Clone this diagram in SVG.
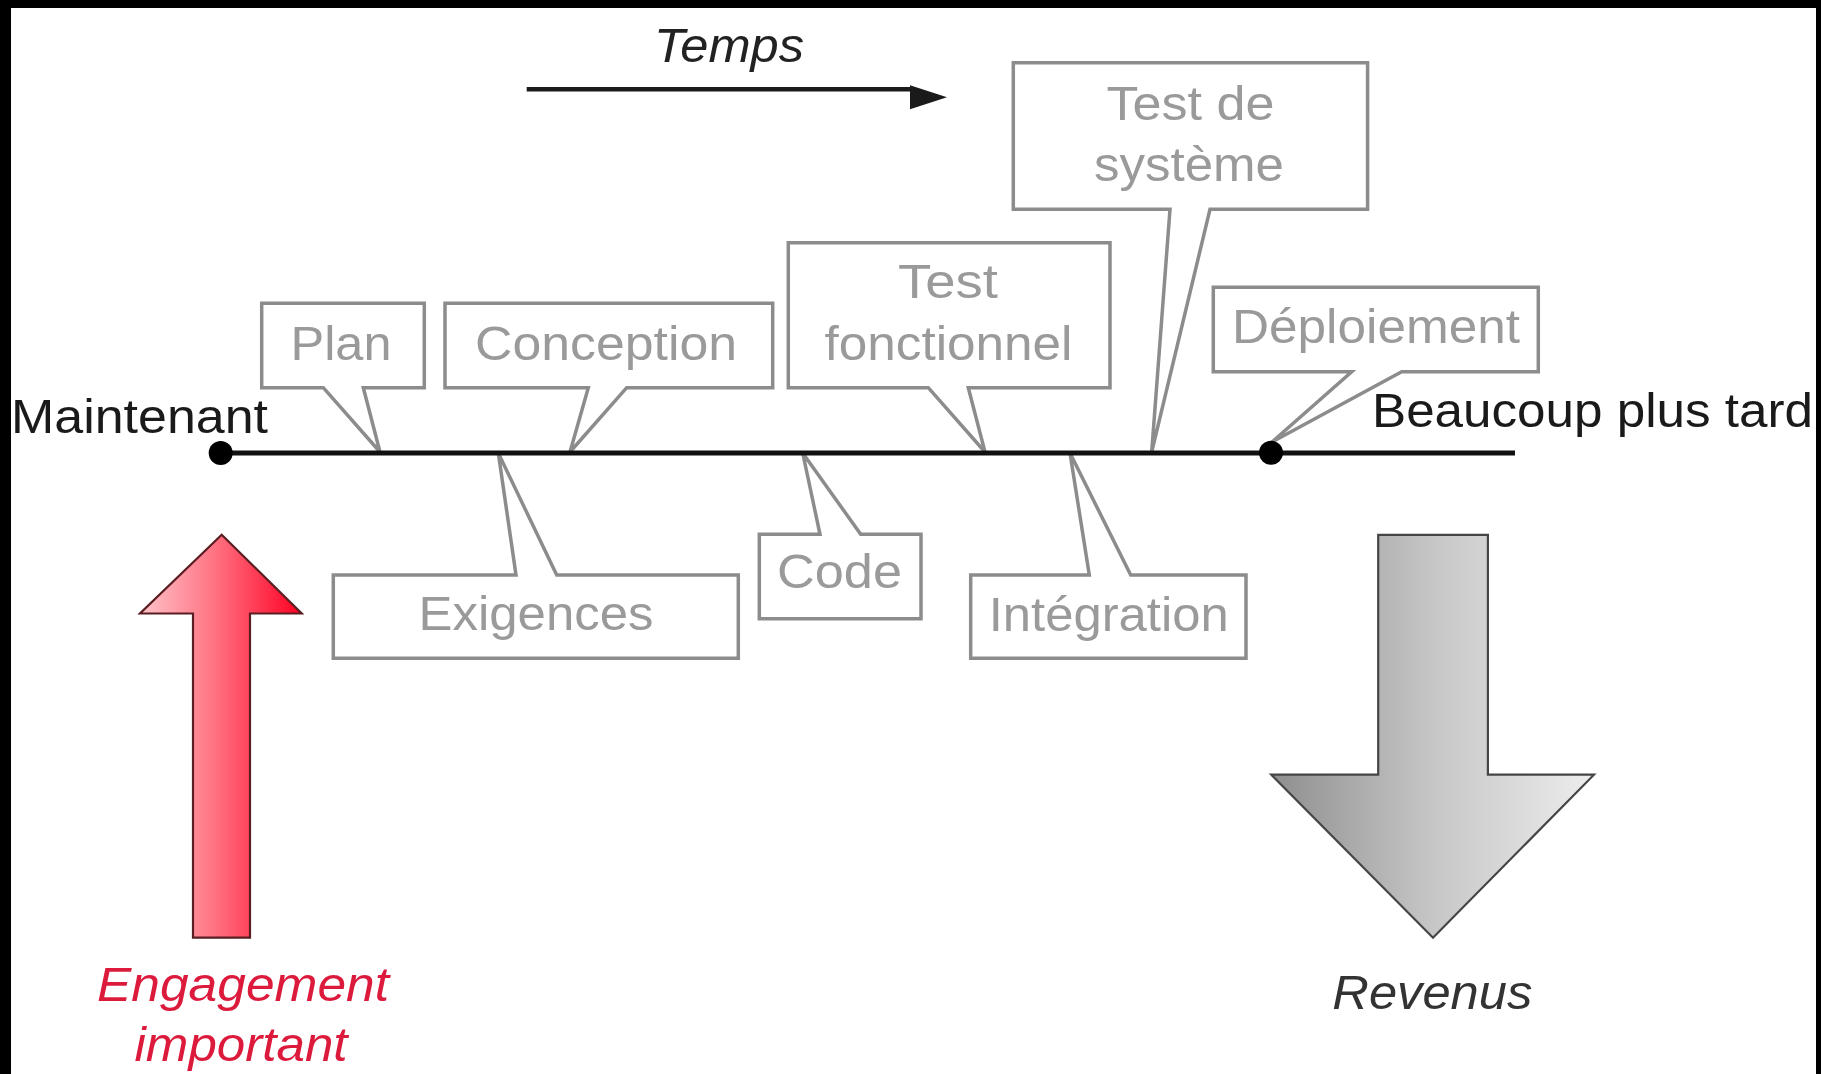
<svg xmlns="http://www.w3.org/2000/svg" width="1821" height="1074" viewBox="0 0 1821 1074">
  <defs>
    <linearGradient id="redGrad" gradientUnits="userSpaceOnUse" x1="140" y1="0" x2="302" y2="0">
      <stop offset="0" stop-color="#ffc4ca"/>
      <stop offset="0.45" stop-color="#ff7484"/>
      <stop offset="1" stop-color="#ff0022"/>
    </linearGradient>
    <linearGradient id="grayGrad" gradientUnits="userSpaceOnUse" x1="1271" y1="0" x2="1594" y2="0">
      <stop offset="0" stop-color="#8e8e8e"/>
      <stop offset="0.5" stop-color="#c6c6c6"/>
      <stop offset="1" stop-color="#ededed"/>
    </linearGradient>
    <marker id="arrowHead" markerWidth="10" markerHeight="8" refX="0" refY="4" orient="auto" markerUnits="userSpaceOnUse" viewBox="0 0 10 8" overflow="visible">
      <path d="M0,0 L10,4 L0,8 Z" fill="#1a1a1a" transform="scale(3.7,3)"/>
    </marker>
    <style>
      .callout { fill: #ffffff; stroke: #8c8c8c; stroke-width: 3.5; stroke-linejoin: miter; }
      .lbl { font-family: "Liberation Sans", Arial, sans-serif; font-size: 48px; fill: #9a9a9a; text-anchor: middle; }
      .dark { font-family: "Liberation Sans", Arial, sans-serif; font-size: 48px; fill: #1a1a1a; }
      .ital { font-family: "Liberation Sans", Arial, sans-serif; font-size: 48px; font-style: italic; text-anchor: middle; }
      .dot { fill: #000000; }
    </style>
  </defs>

  <rect x="0" y="0" width="1821" height="1074" fill="#ffffff"/>
  <!-- black frame -->
  <rect x="0" y="0" width="1821" height="8" fill="#000000"/>
  <rect x="0" y="0" width="11" height="1074" fill="#000000"/>
  <rect x="1816" y="0" width="5" height="1074" fill="#000000"/>

  <!-- Temps -->
  <g id="temps">
    <text class="ital" x="729" y="62" fill="#222222" textLength="150" lengthAdjust="spacingAndGlyphs">Temps</text>
  </g>

  <!-- callout nodes -->
  <g id="plan">
    <path class="callout" d="M261.7,303.3 H424.3 V387.7 H363.3 L380,452 L323.3,387.7 H261.7 Z"/>
    <text class="lbl" x="341" y="360" textLength="101" lengthAdjust="spacingAndGlyphs">Plan</text>
  </g>
  <g id="conception">
    <path class="callout" d="M445,303.3 H772.7 V387.7 H626.7 L570,452 L588.3,387.7 H445 Z"/>
    <text class="lbl" x="606" y="360" textLength="262" lengthAdjust="spacingAndGlyphs">Conception</text>
  </g>
  <g id="test-fonctionnel">
    <path class="callout" d="M788.3,242.7 H1110 V387.7 H968.3 L985,452 L928.3,387.7 H788.3 Z"/>
    <text class="lbl" x="948" y="298" textLength="100" lengthAdjust="spacingAndGlyphs">Test</text>
    <text class="lbl" x="948.5" y="360" textLength="248" lengthAdjust="spacingAndGlyphs">fonctionnel</text>
  </g>
  <g id="test-systeme">
    <path class="callout" d="M1013.3,62.7 H1367.6 V209.3 H1210 L1151.7,452 L1170,209.3 H1013.3 Z"/>
    <text class="lbl" x="1190.5" y="120" textLength="168" lengthAdjust="spacingAndGlyphs">Test de</text>
    <text class="lbl" x="1189" y="181" textLength="190" lengthAdjust="spacingAndGlyphs">système</text>
  </g>
  <g id="deploiement">
    <path class="callout" d="M1213.3,287.3 H1538.3 V371.7 H1401.7 L1272,442 L1351.7,371.7 H1213.3 Z"/>
    <text class="lbl" x="1376" y="343" textLength="288" lengthAdjust="spacingAndGlyphs">Déploiement</text>
  </g>
  <g id="exigences">
    <path class="callout" d="M333.3,575 H516 L498.3,453 L556.7,575 H738.3 V658.3 H333.3 Z"/>
    <text class="lbl" x="536" y="630" textLength="235" lengthAdjust="spacingAndGlyphs">Exigences</text>
  </g>
  <g id="code">
    <path class="callout" d="M759.3,534.3 H820 L802.7,453 L860.7,534.3 H921 V618.7 H759.3 Z"/>
    <text class="lbl" x="839.5" y="588" textLength="125" lengthAdjust="spacingAndGlyphs">Code</text>
  </g>
  <g id="integration">
    <path class="callout" d="M970.7,575 H1089.3 L1070,453 L1130.7,575 H1246 V658.3 H970.7 Z"/>
    <text class="lbl" x="1108.7" y="630.5" textLength="240" lengthAdjust="spacingAndGlyphs">Intégration</text>
  </g>

  <!-- connectors -->
  <g id="connectors">
    <line x1="526.7" y1="89.3" x2="910" y2="89.3" stroke="#1a1a1a" stroke-width="4.5" marker-end="url(#arrowHead)"/>
    <line x1="220.7" y1="453" x2="1515" y2="453" stroke="#111111" stroke-width="5"/>
  </g>

  <g id="maintenant">
    <circle class="dot" cx="220.7" cy="453" r="12"/>
    <text class="dark" x="11" y="433" textLength="257" lengthAdjust="spacingAndGlyphs">Maintenant</text>
  </g>
  <g id="beaucoup-plus-tard">
    <circle class="dot" cx="1271" cy="452.7" r="12"/>
    <text class="dark" x="1372" y="426.7" textLength="441" lengthAdjust="spacingAndGlyphs">Beaucoup plus tard</text>
  </g>

  <!-- Engagement arrow -->
  <g id="engagement">
    <path d="M221.7,534.8 L301.7,613.5 H250 V937.7 H193 V613.5 H140 Z" fill="url(#redGrad)" stroke="#5a1e22" stroke-width="2.2" stroke-linejoin="miter"/>
    <text class="ital" x="243" y="1001" fill="#dc1a3c" textLength="292" lengthAdjust="spacingAndGlyphs">Engagement</text>
    <text class="ital" x="241" y="1061" fill="#dc1a3c" textLength="213" lengthAdjust="spacingAndGlyphs">important</text>
  </g>

  <!-- Revenus arrow -->
  <g id="revenus">
    <path d="M1378.2,534.8 H1487.9 V774.7 H1594 L1433,937.7 L1271.3,774.7 H1378.2 Z" fill="url(#grayGrad)" stroke="#454545" stroke-width="2.2" stroke-linejoin="miter"/>
    <text class="ital" x="1432.3" y="1009" fill="#333333" textLength="200" lengthAdjust="spacingAndGlyphs">Revenus</text>
  </g>
</svg>
